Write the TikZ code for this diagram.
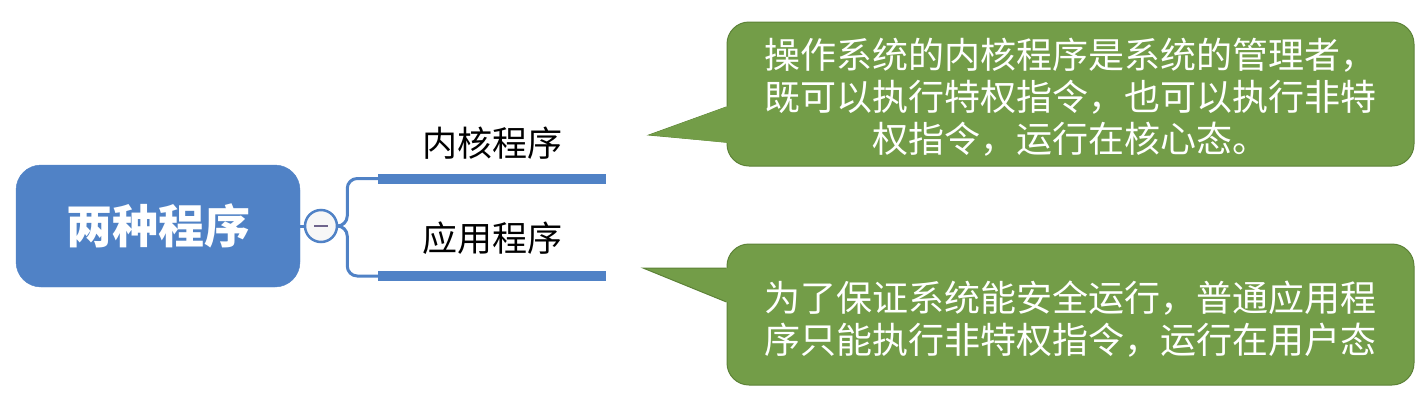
\documentclass[tikz,border=0pt]{standalone}
\usepackage{fontspec}
\newfontfamily\cjk{Noto Sans CJK SC}
\usetikzlibrary{calc}
\definecolor{mblue}{RGB}{80,130,198}
\definecolor{mgreen}{RGB}{115,157,72}
\definecolor{mgreenb}{RGB}{92,130,55}
\definecolor{minus}{RGB}{110,100,140}
\tikzset{
  mainbox/.style={rectangle, rounded corners=25pt, fill=mblue, draw=mblue, minimum width=284pt, minimum height=122pt, inner sep=0pt, text=white, font=\cjk\bfseries\fontsize{46}{50}\selectfont},
  collapse/.style={circle, draw=mblue, line width=2.5pt, fill=gray!6, minimum size=32pt, inner sep=0pt},
  conn/.style={draw=mblue, line width=3pt},
  bar/.style={rectangle, fill=mblue, minimum width=228pt, minimum height=10pt, inner sep=0pt},
  lbl/.style={font=\cjk\fontsize{35}{40}\selectfont, text=black, inner sep=0pt},
  callbox/.style={rectangle, rounded corners=22pt, fill=mgreen, draw=mgreenb, line width=1pt, minimum width=687pt, inner sep=0pt, text=white, align=center, font=\cjk\fontsize{36}{42}\selectfont},
  tailfill/.style={fill=mgreen},
  taildraw/.style={fill=mgreen, draw=mgreenb, line width=1pt, line join=miter},
}
\begin{document}
\begin{tikzpicture}[x=1pt,y=-1pt]
\useasboundingbox (0,0) rectangle (1421,410);
% root
\node[mainbox] (root) at (158,226) {两种程序};
\node[collapse] (col) at (321,226) {};
\draw[minus, line width=2.5pt] ($(col.center)+(-7,0)$) -- ($(col.center)+(7,0)$);
% bars and labels
\node[bar] (b1) at (492,178.5) {};
\node[bar] (b2) at (492,276) {};
\node[lbl] (l1) at (492,143) {内核程序};
\node[lbl] (l2) at (492,238) {应用程序};
% connectors
\draw[conn] (root.east) -- (col.west);
\draw[conn, rounded corners=10pt] (col.east) -- ++(9,0) |- (b1.west);
\draw[conn, rounded corners=10pt] (col.east) -- ++(9,0) |- (b2.west);
% callout 1
\coordinate (t1) at (649,135);
\node[callbox, minimum height=144pt] (c1) at (1070.5,94) {};
\draw[taildraw] ($(c1.west)+(0,13)$) -- (t1) -- ($(c1.west)+(0,48)$);
\fill[tailfill] ($(c1.west)+(2,12)$) -- (t1) -- ($(c1.west)+(2,49)$) -- cycle;
\fill[tailfill] ($(c1.west)+(-0.5,13)$) -- ($(c1.west)+(3,13)$) -- ($(c1.west)+(3,48)$) -- ($(c1.west)+(-0.5,48)$) -- cycle;
\node[font=\cjk\fontsize{36}{42}\selectfont, text=white, align=center] (x1) at ($(c1.center)+(0,3)$) {操作系统的内核程序是系统的管理者，\\既可以执行特权指令，也可以执行非特\\权指令，运行在核心态。};
% callout 2
\coordinate (t2) at (643,268);
\node[callbox, minimum height=141pt] (c2) at (1070.5,314.5) {};
\draw[taildraw] ($(c2.west)+(0,-46.5)$) -- (t2) -- ($(c2.west)+(0,-12.5)$);
\fill[tailfill] ($(c2.west)+(-0.5,-46.5)$) -- ($(c2.west)+(3,-46.5)$) -- ($(c2.west)+(3,-12.5)$) -- ($(c2.west)+(-0.5,-12.5)$) -- cycle;
\node[font=\cjk\fontsize{36}{42}\selectfont, text=white, align=center] (x2) at ($(c2.center)+(0,5)$) {为了保证系统能安全运行，普通应用程\\序只能执行非特权指令，运行在用户态};
\end{tikzpicture}
\end{document}
